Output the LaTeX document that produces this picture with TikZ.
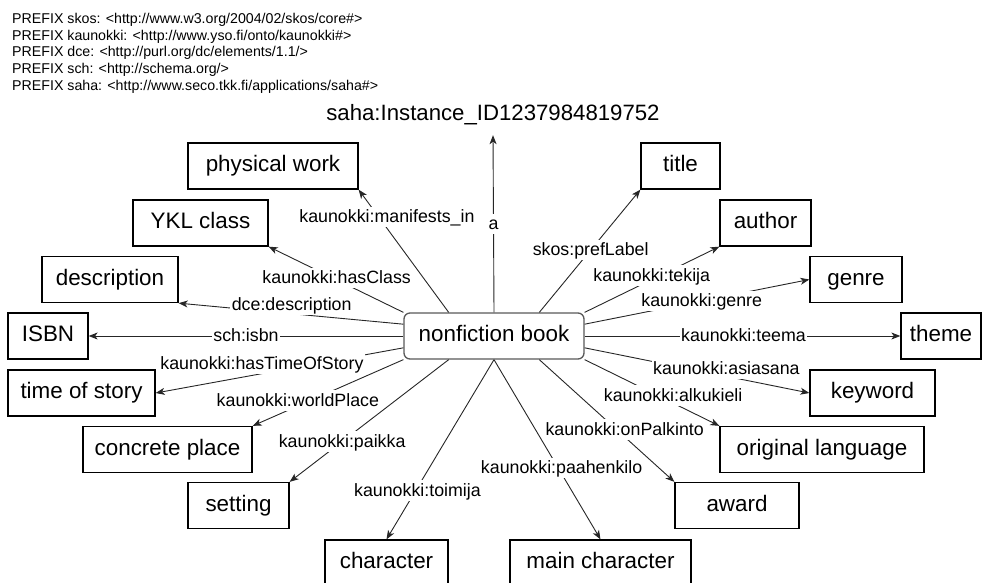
\documentclass[tikz,border=0pt]{standalone}
\usepackage{fontspec}
\setmainfont{Liberation Sans}
\usetikzlibrary{arrows.meta,calc}

\begin{document}
\begin{tikzpicture}[x=1pt,y=-1pt,
  box/.style={draw=black, line width=1.3pt, minimum height=46pt, inner sep=0pt,
    font=\fontsize{22.4}{26}\selectfont, text height=16pt, text depth=4.6pt},
  hub/.style={box, draw=black!65, rounded corners=6pt, fill=white},
  edge/.style={draw=black!85, line width=0.9pt,
    -{Stealth[length=9pt,width=7pt,inset=2.5pt]}},
  lbl/.style={fill=white, inner xsep=1.5pt, inner ysep=2.5pt,
    font=\fontsize{17.8}{21}\selectfont, text height=13.4pt, text depth=2pt},
  nsline/.style={anchor=base west, inner sep=0pt, font=\fontsize{14.2}{16.7}\selectfont},
]
\useasboundingbox (0,0) rectangle (982,582);

% namespace prefixes
\node[nsline] (p1) at (12,23.3) {PREFIX skos: <http://www.w3.org/2004/02/skos/core\#>};
\node[nsline] (p2) at (12,40.0) {PREFIX kaunokki: <http://www.yso.fi/onto/kaunokki\#>};
\node[nsline] (p3) at (12,56.7) {PREFIX dce: <http://purl.org/dc/elements/1.1/>};
\node[nsline] (p4) at (12,73.4) {PREFIX sch: <http://schema.org/>};
\node[nsline] (p5) at (12,90.1) {PREFIX saha: <http://www.seco.tkk.fi/applications/saha\#>};

% instance identifier
\node[anchor=base, inner sep=0pt, text depth=0pt, font=\fontsize{22.2}{26}\selectfont]
  (inst) at (493,120.5) {saha:Instance\_ID1237984819752};

% central resource
\node[hub, minimum width=180pt] (c) at (494,336) {nonfiction book};

% property values
\node[box, minimum width=170pt] (pw)   at (273,166)     {physical work};
\node[box, minimum width=79pt]  (ttl)  at (680.5,166)   {title};
\node[box, minimum width=135pt] (ykl)  at (200.5,223)   {YKL class};
\node[box, minimum width=91pt]  (auth) at (765.5,223)   {author};
\node[box, minimum width=136pt] (desc) at (110,279.5)   {description};
\node[box, minimum width=92pt]  (gen)  at (856,279.5)   {genre};
\node[box, minimum width=80pt]  (isbn) at (48,336)      {ISBN};
\node[box, minimum width=80pt]  (thm)  at (941,336)     {theme};
\node[box, minimum width=147pt] (tos)  at (81.5,393)    {time of story};
\node[box, minimum width=125pt] (kw)   at (872.5,393)   {keyword};
\node[box, minimum width=169pt] (cp)   at (167.5,449.5) {concrete place};
\node[box, minimum width=204pt] (ol)   at (822,449.5)   {original language};
\node[box, minimum width=101pt] (set)  at (238.5,505.5) {setting};
\node[box, minimum width=124pt] (awd)  at (737,505.5)   {award};
\node[box, minimum width=123pt] (chr)  at (386.5,563)   {character};
\node[box, minimum width=181pt] (mchr) at (600.5,563)   {main character};

% connection points on the central box
\coordinate (ct1) at ($(c.north west)!.25!(c.north east)$);
\coordinate (ct3) at ($(c.north west)!.75!(c.north east)$);
\coordinate (cb1) at ($(c.south west)!.25!(c.south east)$);
\coordinate (cb3) at ($(c.south west)!.75!(c.south east)$);
\coordinate (cl1) at ($(c.north west)!.25!(c.south west)$);
\coordinate (cl3) at ($(c.north west)!.75!(c.south west)$);
\coordinate (cr1) at ($(c.north east)!.25!(c.south east)$);
\coordinate (cr3) at ($(c.north east)!.75!(c.south east)$);

% properties
\draw[edge] (c.north) -- node[lbl,pos=.5]{a} ([yshift=-14.5pt]inst.south);
\draw[edge] (ct1) -- node[lbl,pos=.778,xshift=8.3pt]{kaunokki:manifests\_in} (pw.south east);
\draw[edge] (c.north west) -- node[lbl,pos=.495,yshift=2pt]{kaunokki:hasClass} (ykl.south east);
\draw[edge] (cl1) -- node[lbl,pos=.497,yshift=8.5pt]{dce:description} (desc.south east);
\draw[edge] (c.west) -- node[lbl,pos=.5]{sch:isbn} (isbn.east);
\draw[edge] (cl3) -- node[lbl,pos=.571,yshift=10pt]{kaunokki:hasTimeOfStory} (tos.east);
\draw[edge] (c.south west) -- node[lbl,pos=.70,yshift=5.5pt]{kaunokki:worldPlace} (cp.north east);
\draw[edge] (cb1) -- node[lbl,pos=.67]{kaunokki:paikka} (set.north east);
\draw[edge] (c.south) -- node[lbl,pos=.727,xshift=1.6pt]{kaunokki:toimija} (chr.north);
\draw[edge] (c.south) -- node[lbl,pos=.602,xshift=3.5pt]{kaunokki:paahenkilo} (mchr.north);
\draw[edge] (cb3) -- node[lbl,pos=.573,xshift=8pt]{kaunokki:onPalkinto} (awd.north west);
\draw[edge] (c.south east) -- node[lbl,pos=.657,yshift=7.5pt]{kaunokki:alkukieli} (ol.north west);
\draw[edge] (cr3) -- node[lbl,pos=.631,yshift=8pt]{kaunokki:asiasana} (kw.west);
\draw[edge] (c.east) -- node[lbl,pos=.503]{kaunokki:teema} (thm.west);
\draw[edge] (cr1) -- node[lbl,pos=.521]{kaunokki:genre} (gen.west);
\draw[edge] (c.north east) -- node[lbl,pos=.498,yshift=4pt]{kaunokki:tekija} (auth.south west);
\draw[edge] (ct3) -- node[lbl,pos=.508]{skos:prefLabel} (ttl.south west);
\end{tikzpicture}
\end{document}
